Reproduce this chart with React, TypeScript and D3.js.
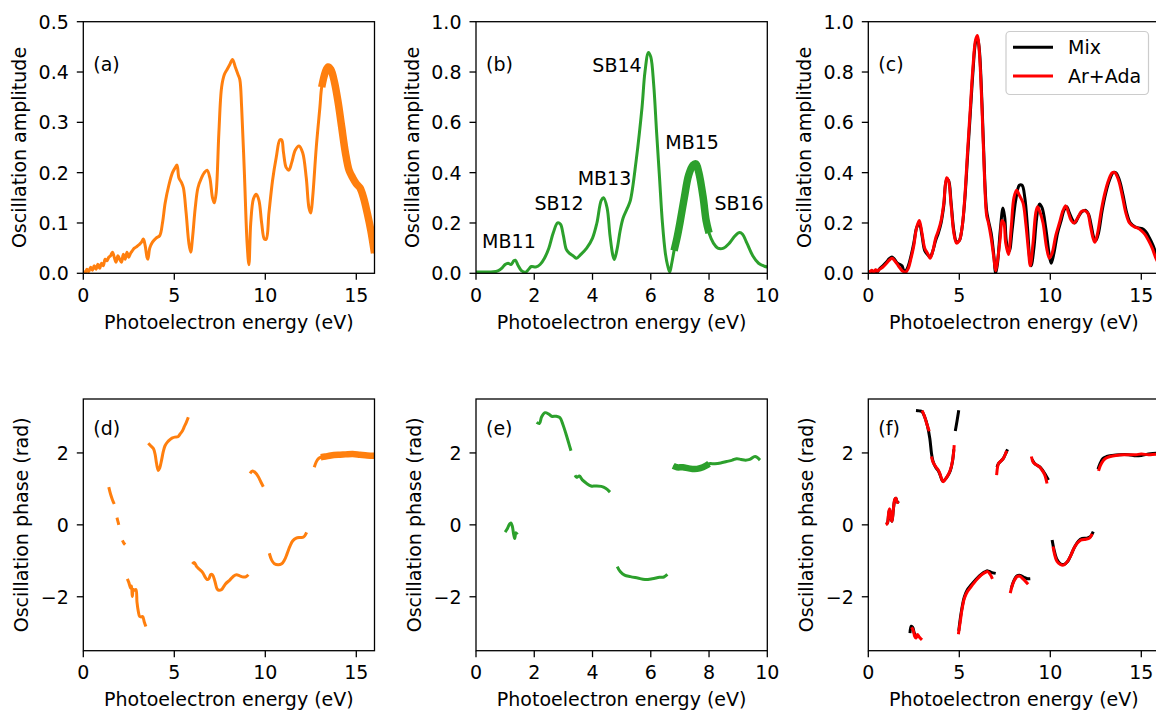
import React from 'react';
import * as d3 from 'd3';

type P = [number, number];

// ---------- DATA ----------
// (a) amplitude vs photoelectron energy (eV)
const ampA: P[] = [
  [0, 0.005], [0.1, 0.0], [0.2, 0.008], [0.3, 0.003], [0.4, 0.012], [0.5, 0.006], [0.6, 0.015], [0.7, 0.008], [0.8, 0.018], [0.9, 0.01],
  [1.0, 0.02], [1.1, 0.015], [1.2, 0.028], [1.3, 0.025], [1.4, 0.032], [1.5, 0.035], [1.6, 0.042], [1.7, 0.032], [1.8, 0.022], [1.9, 0.035],
  [2.0, 0.028], [2.1, 0.022], [2.2, 0.038], [2.3, 0.028], [2.4, 0.042], [2.5, 0.032], [2.6, 0.04], [2.7, 0.045], [2.8, 0.05], [2.9, 0.052],
  [3.0, 0.055], [3.1, 0.058], [3.2, 0.062], [3.3, 0.068], [3.4, 0.055], [3.5, 0.032], [3.55, 0.028], [3.65, 0.05], [3.8, 0.062], [4.0, 0.07],
  [4.2, 0.075], [4.35, 0.1], [4.5, 0.14], [4.7, 0.175], [4.9, 0.2], [5.05, 0.21], [5.15, 0.215], [5.25, 0.19], [5.4, 0.18], [5.5, 0.17],
  [5.65, 0.12], [5.8, 0.06], [5.9, 0.042], [6.0, 0.07], [6.15, 0.13], [6.3, 0.17], [6.5, 0.19], [6.65, 0.2], [6.8, 0.205], [6.95, 0.19],
  [7.1, 0.15], [7.2, 0.14], [7.3, 0.16], [7.45, 0.28], [7.6, 0.37], [7.75, 0.395], [7.9, 0.405], [8.05, 0.415], [8.2, 0.425], [8.35, 0.41],
  [8.5, 0.395], [8.6, 0.385], [8.7, 0.33], [8.85, 0.2], [9.0, 0.06], [9.1, 0.017], [9.2, 0.1], [9.35, 0.148], [9.5, 0.157], [9.65, 0.145],
  [9.8, 0.1], [9.95, 0.068], [10.05, 0.068], [10.2, 0.12], [10.4, 0.185], [10.6, 0.23], [10.8, 0.265], [10.9, 0.265], [11.0, 0.24], [11.15, 0.21],
  [11.3, 0.205], [11.45, 0.22], [11.65, 0.245], [11.85, 0.253], [12.05, 0.24], [12.25, 0.19], [12.4, 0.13], [12.5, 0.12], [12.6, 0.15], [12.8, 0.25],
  [13.0, 0.33], [13.1, 0.37], [13.3, 0.4], [13.45, 0.41], [13.6, 0.405], [13.8, 0.38], [14.0, 0.34], [14.2, 0.29], [14.4, 0.24], [14.6, 0.205],
  [14.8, 0.19], [15.0, 0.178], [15.2, 0.17], [15.4, 0.15], [15.6, 0.12], [15.8, 0.085], [16.0, 0.04],
];
const thickA: P = [13.1, 16];

// (b) amplitude
const ampB: P[] = [
  [0, 0.005], [0.3, 0.005], [0.6, 0.006], [0.75, 0.01], [0.9, 0.022], [1.0, 0.035], [1.1, 0.04], [1.2, 0.035], [1.3, 0.05], [1.35, 0.052],
  [1.45, 0.03], [1.55, 0.012], [1.7, 0.004], [1.8, 0.015], [1.9, 0.027], [2.05, 0.025], [2.2, 0.035], [2.35, 0.06], [2.5, 0.1], [2.65, 0.16],
  [2.8, 0.2], [2.9, 0.195], [3.0, 0.15], [3.1, 0.095], [3.2, 0.08], [3.35, 0.068], [3.45, 0.06], [3.6, 0.075], [3.8, 0.1], [4.0, 0.14],
  [4.15, 0.2], [4.3, 0.29], [4.38, 0.3], [4.5, 0.26], [4.6, 0.15], [4.7, 0.07], [4.75, 0.055], [4.85, 0.1], [4.95, 0.17], [5.05, 0.22],
  [5.2, 0.26], [5.3, 0.29], [5.5, 0.45], [5.7, 0.66], [5.8, 0.8], [5.92, 0.878], [6.0, 0.86], [6.1, 0.75], [6.2, 0.56], [6.3, 0.38],
  [6.4, 0.2], [6.5, 0.08], [6.58, 0.03], [6.65, 0.005], [6.72, 0.04], [6.8, 0.09], [6.9, 0.14], [7.0, 0.2], [7.15, 0.3], [7.3, 0.39],
  [7.45, 0.43], [7.55, 0.435], [7.65, 0.4], [7.8, 0.3], [7.9, 0.21], [8.0, 0.16], [8.15, 0.12], [8.3, 0.1], [8.5, 0.1], [8.7, 0.12],
  [8.9, 0.15], [9.05, 0.162], [9.15, 0.155], [9.3, 0.12], [9.5, 0.07], [9.7, 0.04], [9.9, 0.028], [10, 0.025],
];
const thickB: P = [6.8, 8.0];
const peakLabelsB = [
  { text: 'MB11', e: 1.13, a: 0.1 },
  { text: 'SB12', e: 2.85, a: 0.25 },
  { text: 'MB13', e: 4.41, a: 0.35 },
  { text: 'SB14', e: 4.84, a: 0.8 },
  { text: 'MB15', e: 7.42, a: 0.495 },
  { text: 'SB16', e: 9.03, a: 0.25 },
];

// (c) amplitude, two series
const ampMix: P[] = [
  [0.0, 0.008], [0.1, 0.004], [0.2, 0.01], [0.3, 0.003], [0.4, 0.012], [0.5, 0.006], [0.6, 0.016], [0.8, 0.03], [1.0, 0.045], [1.15, 0.058], [1.3, 0.065], [1.45, 0.055], [1.6, 0.04],
  [1.75, 0.035], [1.85, 0.03], [1.95, 0.012], [2.05, 0.01], [2.2, 0.03], [2.35, 0.07], [2.5, 0.12], [2.65, 0.18], [2.8, 0.2], [2.95, 0.15],
  [3.1, 0.09], [3.25, 0.075], [3.4, 0.065], [3.55, 0.09], [3.7, 0.13], [3.85, 0.16], [4.0, 0.2], [4.15, 0.27], [4.3, 0.37], [4.4, 0.37],
  [4.55, 0.28], [4.7, 0.17], [4.85, 0.125], [5.0, 0.13], [5.15, 0.18], [5.3, 0.29], [5.45, 0.46], [5.6, 0.63], [5.75, 0.8], [5.9, 0.92],
  [6.0, 0.935], [6.1, 0.89], [6.25, 0.67], [6.4, 0.37], [6.5, 0.25], [6.6, 0.21], [6.75, 0.16], [6.9, 0.07], [7.0, 0.0], [7.1, 0.04],
  [7.25, 0.17], [7.4, 0.26], [7.5, 0.22], [7.6, 0.12], [7.75, 0.09], [7.9, 0.17], [8.1, 0.29], [8.3, 0.35], [8.45, 0.35], [8.6, 0.3],
  [8.75, 0.18], [8.88, 0.05], [8.95, 0.03], [9.1, 0.1], [9.25, 0.22], [9.4, 0.275], [9.55, 0.26], [9.75, 0.18], [9.95, 0.07], [10.05, 0.04],
  [10.2, 0.08], [10.4, 0.16], [10.6, 0.21], [10.75, 0.25], [10.9, 0.265], [11.05, 0.24], [11.2, 0.215], [11.35, 0.2], [11.55, 0.225], [11.75, 0.245],
  [11.95, 0.25], [12.1, 0.235], [12.25, 0.19], [12.4, 0.14], [12.5, 0.13], [12.65, 0.16], [12.85, 0.25], [13.05, 0.32], [13.25, 0.37], [13.45, 0.4],
  [13.6, 0.4], [13.8, 0.37], [14.0, 0.31], [14.2, 0.24], [14.4, 0.2], [14.65, 0.185], [14.85, 0.18], [15.05, 0.178], [15.25, 0.165], [15.45, 0.14],
  [15.65, 0.11], [15.85, 0.07], [16.0, 0.045],
];
const ampArAda: P[] = [
  [0.0, 0.01], [0.1, 0.006], [0.2, 0.012], [0.3, 0.005], [0.4, 0.014], [0.5, 0.008], [0.6, 0.015], [0.8, 0.025], [1.0, 0.04], [1.15, 0.052], [1.3, 0.06], [1.45, 0.05], [1.6, 0.035],
  [1.75, 0.02], [1.9, 0.008], [2.05, 0.004], [2.2, 0.02], [2.35, 0.06], [2.5, 0.11], [2.65, 0.18], [2.8, 0.21], [2.95, 0.16], [3.1, 0.1],
  [3.25, 0.08], [3.4, 0.06], [3.55, 0.09], [3.7, 0.14], [3.85, 0.17], [4.0, 0.21], [4.15, 0.28], [4.3, 0.38], [4.4, 0.37], [4.55, 0.27],
  [4.7, 0.16], [4.85, 0.12], [5.0, 0.13], [5.15, 0.18], [5.3, 0.3], [5.45, 0.48], [5.6, 0.65], [5.75, 0.82], [5.9, 0.93], [6.0, 0.945],
  [6.1, 0.88], [6.25, 0.65], [6.4, 0.35], [6.5, 0.23], [6.6, 0.2], [6.75, 0.14], [6.9, 0.06], [7.0, 0.01], [7.1, 0.05], [7.25, 0.14],
  [7.35, 0.21], [7.45, 0.2], [7.55, 0.12], [7.7, 0.075], [7.85, 0.18], [8.0, 0.3], [8.15, 0.33], [8.3, 0.31], [8.5, 0.28], [8.65, 0.2],
  [8.8, 0.09], [8.9, 0.03], [9.05, 0.12], [9.2, 0.24], [9.3, 0.265], [9.45, 0.24], [9.6, 0.2], [9.8, 0.1], [9.95, 0.06], [10.1, 0.08],
  [10.3, 0.15], [10.5, 0.2], [10.7, 0.25], [10.85, 0.268], [11.0, 0.24], [11.15, 0.21], [11.3, 0.2], [11.5, 0.22], [11.7, 0.245], [11.85, 0.25],
  [12.05, 0.24], [12.2, 0.19], [12.35, 0.14], [12.45, 0.123], [12.6, 0.16], [12.8, 0.25], [13.0, 0.32], [13.2, 0.37], [13.4, 0.4], [13.55, 0.4],
  [13.75, 0.37], [13.95, 0.31], [14.15, 0.24], [14.35, 0.2], [14.6, 0.185], [14.8, 0.18], [15.0, 0.17], [15.2, 0.155], [15.4, 0.13], [15.6, 0.1],
  [15.8, 0.06], [16.0, 0.03],
];

// (d) phase segments (rad)
const phaseD: P[][] = [
  [[1.4, 1.05], [1.5, 0.85], [1.6, 0.7], [1.7, 0.58]],
  [[1.85, 0.2], [1.9, 0.1], [1.95, 0.0]],
  [[2.15, -0.43], [2.22, -0.5], [2.3, -0.55]],
  [[2.42, -1.5], [2.5, -1.6], [2.6, -1.76], [2.65, -1.7], [2.69, -1.99], [2.75, -1.8], [2.8, -1.82], [2.89, -1.8], [2.95, -2.15], [3.02, -2.4],
   [3.1, -2.55], [3.18, -2.56], [3.26, -2.55], [3.35, -2.7], [3.44, -2.83]],
  [[3.57, 2.27], [3.7, 2.2], [3.85, 2.12], [3.95, 1.95], [4.02, 1.72], [4.12, 1.51], [4.2, 1.58], [4.3, 1.8], [4.4, 2.05], [4.49, 2.2],
   [4.62, 2.3], [4.76, 2.37], [4.9, 2.42], [5.04, 2.44], [5.2, 2.45], [5.31, 2.52], [5.45, 2.62], [5.55, 2.73], [5.66, 2.85], [5.77, 2.99]],
  [[5.99, -1.09], [6.1, -1.05], [6.23, -1.16], [6.41, -1.25], [6.55, -1.32], [6.68, -1.44], [6.8, -1.52], [6.9, -1.5], [7.0, -1.38], [7.1, -1.39],
   [7.23, -1.57], [7.35, -1.78], [7.45, -1.82], [7.6, -1.8], [7.8, -1.65], [8.06, -1.53], [8.25, -1.43], [8.42, -1.39], [8.6, -1.42], [8.79, -1.45],
   [8.95, -1.44], [9.07, -1.39]],
  [[9.16, 1.43], [9.3, 1.5], [9.45, 1.45], [9.6, 1.35], [9.75, 1.2], [9.89, 1.06]],
  [[10.22, -0.79], [10.35, -0.98], [10.5, -1.08], [10.71, -1.11], [10.9, -1.08], [11.05, -0.98], [11.2, -0.8], [11.35, -0.6], [11.5, -0.45],
   [11.7, -0.37], [11.9, -0.35], [12.1, -0.34], [12.27, -0.21]],
  [[12.69, 1.6], [12.8, 1.75], [12.92, 1.84], [13.05, 1.88], [13.3, 1.9], [13.6, 1.93], [14.0, 1.95], [14.4, 1.96], [14.8, 1.97], [15.2, 1.95],
   [15.6, 1.93], [16.0, 1.92]],
];
const thickD: P = [13.05, 16];

// (e) phase segments
const phaseE: P[][] = [
  [[1.0, -0.2], [1.08, -0.1], [1.15, 0.02], [1.2, 0.05], [1.25, -0.05], [1.29, -0.25], [1.33, -0.38], [1.37, -0.22], [1.42, -0.27]],
  [[2.08, 2.85], [2.18, 2.82], [2.25, 3.0], [2.37, 3.12], [2.5, 3.08], [2.6, 3.02], [2.75, 3.02], [2.88, 2.98], [2.98, 2.8], [3.1, 2.5], [3.26, 2.06]],
  [[3.4, 1.38], [3.46, 1.32], [3.55, 1.36], [3.65, 1.25], [3.8, 1.15], [3.95, 1.08], [4.1, 1.08], [4.3, 1.07], [4.45, 1.02], [4.6, 0.91]],
  [[4.85, -1.16], [4.95, -1.3], [5.1, -1.4], [5.3, -1.44], [5.55, -1.48], [5.8, -1.52], [6.05, -1.5], [6.3, -1.46], [6.45, -1.45], [6.57, -1.38]],
  [[6.77, 1.64], [6.9, 1.6], [7.1, 1.6], [7.3, 1.57], [7.5, 1.55], [7.7, 1.58], [7.9, 1.65], [8.0, 1.7], [8.2, 1.7], [8.4, 1.72], [8.6, 1.76],
   [8.8, 1.8], [8.95, 1.84], [9.1, 1.82], [9.25, 1.8], [9.4, 1.82], [9.58, 1.9], [9.75, 1.8]],
];
const thickE: P = [6.77, 8.0];

// (f) phase segments, two series
const phaseMix: P[][] = [
  [[0.97, 0.02], [1.05, 0.05], [1.12, 0.3], [1.17, 0.42], [1.24, 0.18], [1.3, 0.1], [1.38, 0.45], [1.46, 0.7], [1.52, 0.74], [1.6, 0.62], [1.65, 0.66]],
  [[2.29, -3.01], [2.36, -2.82], [2.44, -2.85], [2.52, -3.0], [2.6, -3.1]],
  [[2.62, 3.18], [2.8, 3.17], [2.95, 3.15], [3.1, 3.0], [3.25, 2.75], [3.38, 2.4], [3.47, 2.0], [3.55, 1.78], [3.7, 1.6], [3.85, 1.5], [3.95, 1.38],
   [4.08, 1.22], [4.2, 1.25], [4.35, 1.35], [4.5, 1.5], [4.62, 1.75], [4.7, 2.1]],
  [[4.78, 2.61], [4.88, 2.9], [4.97, 3.19]],
  [[4.97, -2.95], [5.1, -2.45], [5.28, -2.0], [5.45, -1.8], [5.6, -1.7], [5.8, -1.58], [6.0, -1.47], [6.2, -1.38], [6.4, -1.31], [6.56, -1.28],
   [6.75, -1.32], [7.0, -1.35]],
  [[7.07, 1.6], [7.16, 1.71], [7.3, 1.78], [7.42, 1.85], [7.52, 1.95], [7.65, 2.1]],
  [[7.85, -1.78], [8.0, -1.55], [8.15, -1.43], [8.3, -1.4], [8.45, -1.43], [8.6, -1.47], [8.75, -1.5], [8.9, -1.5]],
  [[9.0, 1.82], [9.15, 1.7], [9.3, 1.65], [9.45, 1.6], [9.6, 1.5], [9.75, 1.38], [9.9, 1.25]],
  [[10.1, -0.42], [10.2, -0.68], [10.35, -0.95], [10.55, -1.08], [10.75, -1.1], [10.95, -1.02], [11.15, -0.82], [11.35, -0.6], [11.55, -0.45],
   [11.75, -0.38], [12.0, -0.37], [12.2, -0.33], [12.36, -0.19]],
  [[12.62, 1.55], [12.75, 1.72], [12.9, 1.85], [13.1, 1.9], [13.4, 1.93], [13.8, 1.95], [14.3, 1.95], [14.7, 1.92], [15.0, 1.93], [15.5, 1.98], [16.0, 2.0]],
];
const phaseArAda: P[][] = [
  [[0.97, 0.0], [1.05, 0.05], [1.12, 0.35], [1.17, 0.45], [1.24, 0.2], [1.3, 0.1], [1.38, 0.45], [1.46, 0.72], [1.52, 0.74], [1.6, 0.62], [1.65, 0.65]],
  [[2.38, -2.85], [2.48, -2.95], [2.55, -3.1], [2.62, -3.15], [2.7, -3.05], [2.8, -3.12], [2.95, -3.2]],
  [[2.96, 3.18], [3.1, 3.0], [3.25, 2.75], [3.35, 2.6]],
  [[3.47, 1.9], [3.55, 1.75], [3.7, 1.62], [3.85, 1.52], [3.95, 1.4], [4.05, 1.25], [4.12, 1.2], [4.25, 1.28], [4.4, 1.4], [4.55, 1.6], [4.65, 1.85], [4.72, 2.22]],
  [[4.95, -3.04], [5.05, -2.7], [5.15, -2.35], [5.28, -2.04], [5.45, -1.85], [5.6, -1.75], [5.8, -1.62], [6.0, -1.5], [6.2, -1.4], [6.4, -1.33],
   [6.56, -1.3], [6.7, -1.38], [6.82, -1.5]],
  [[7.05, 1.38], [7.1, 1.6], [7.16, 1.71], [7.3, 1.78], [7.42, 1.85], [7.52, 1.95], [7.6, 2.06]],
  [[7.8, -1.9], [7.9, -1.7], [8.0, -1.57], [8.15, -1.45], [8.3, -1.42], [8.45, -1.48], [8.6, -1.55], [8.78, -1.65]],
  [[8.96, 1.9], [9.05, 1.75], [9.15, 1.7], [9.3, 1.65], [9.45, 1.59], [9.6, 1.48], [9.7, 1.38], [9.82, 1.15]],
  [[10.15, -0.6], [10.25, -0.85], [10.37, -1.02], [10.55, -1.1], [10.72, -1.12], [10.9, -1.05], [11.1, -0.88], [11.3, -0.65], [11.5, -0.5],
   [11.7, -0.42], [11.95, -0.4], [12.15, -0.37], [12.3, -0.25]],
  [[12.65, 1.5], [12.75, 1.65], [12.9, 1.78], [13.05, 1.85], [13.3, 1.9], [13.6, 1.93], [14.0, 1.95], [14.4, 1.95], [14.7, 1.95], [15.0, 1.97],
   [15.4, 1.95], [15.8, 1.96], [16.0, 1.95]],
];

const xTicks16 = [0, 5, 10, 15];
const xTicks10 = [0, 2, 4, 6, 8, 10];
const yTicksA = [0, 0.1, 0.2, 0.3, 0.4, 0.5];
const yTicksBC = [0, 0.2, 0.4, 0.6, 0.8, 1.0];
const yTicksPhase = [-2, 0, 2];
const legendItems = [
  { label: 'Mix', color: '#000000' },
  { label: 'Ar+Ada', color: '#ff0000' },
];
const X_LABEL = 'Photoelectron energy (eV)';
const Y_AMP = 'Oscillation amplitude';
const Y_PHASE = 'Oscillation phase (rad)';

// ---------- STYLE / LAYOUT ----------
const ORANGE = '#ff7f0e';
const GREEN = '#2ca02c';
const FONT = "'DejaVu Sans', sans-serif";
const FS = 19;
const COLS: P[] = [[83.3, 374.5], [476, 767.3], [868.3, 1159.5]];
const ROWS: P[] = [[21.7, 273.3], [399, 650.7]];
const LW = 3;

type Sc = d3.ScaleLinear<number, number>;

const fmt1 = (v: number) => v.toFixed(1);
const fmtPhase = (v: number) => (v < 0 ? '\u2212' + Math.abs(v) : String(v));

function mkLine(xs: Sc, ys: Sc) {
  return d3
    .line<P>()
    .x((d) => xs(d[0]))
    .y((d) => ys(d[1]))
    .curve(d3.curveCatmullRom.alpha(0.5));
}

function within(pts: P[], r: P) {
  return pts.filter((d) => d[0] >= r[0] - 1e-9 && d[0] <= r[1] + 1e-9);
}

interface AxesProps {
  id: string;
  col: number;
  row: number;
  xDomain: P;
  yDomain: P;
  xTicks: number[];
  yTicks: number[];
  yFmt: (v: number) => string;
  yLabel: string;
  yLabelOff: number;
  letter: string;
  letterDy: number;
  render: (xs: Sc, ys: Sc) => React.ReactNode;
}

function Axes(p: AxesProps) {
  const [x0, x1] = COLS[p.col];
  const [y0, y1] = ROWS[p.row];
  const xs = d3.scaleLinear().domain(p.xDomain).range([x0, x1]);
  const ys = d3.scaleLinear().domain(p.yDomain).range([y1, y0]);
  return (
    <g>
      <defs>
        <clipPath id={p.id}>
          <rect x={x0} y={y0} width={x1 - x0} height={y1 - y0} />
        </clipPath>
      </defs>
      <g clipPath={`url(#${p.id})`}>{p.render(xs, ys)}</g>
      <rect x={x0} y={y0} width={x1 - x0} height={y1 - y0} fill="none" stroke="#000" strokeWidth={1.3} />
      {p.xTicks.map((t) => (
        <g key={'x' + t}>
          <line x1={xs(t)} x2={xs(t)} y1={y1} y2={y1 + 6.5} stroke="#000" strokeWidth={1.3} />
          <text x={xs(t)} y={y1 + 28.6} textAnchor="middle">
            {String(t)}
          </text>
        </g>
      ))}
      {p.yTicks.map((t) => (
        <g key={'y' + t}>
          <line x1={x0 - 6.5} x2={x0} y1={ys(t)} y2={ys(t)} stroke="#000" strokeWidth={1.3} />
          <text x={x0 - 14.5} y={ys(t) + 6.9} textAnchor="end">
            {p.yFmt(t)}
          </text>
        </g>
      ))}
      <text x={(x0 + x1) / 2} y={y1 + 55.5} textAnchor="middle">
        {X_LABEL}
      </text>
      <text
        transform={`translate(${x0 - p.yLabelOff},${(y0 + y1) / 2}) rotate(-90)`}
        textAnchor="middle"
      >
        {p.yLabel}
      </text>
      <text x={x0 + 10} y={y0 + p.letterDy}>
        {p.letter}
      </text>
    </g>
  );
}

export default function App() {
  return (
    <svg
      width={1156}
      height={711}
      viewBox="0 0 1156 711"
      style={{ position: 'absolute', left: 0, top: 0, background: '#fff' }}
      fontFamily={FONT}
      fontSize={FS}
      fill="#000"
    >
      <rect x={0} y={0} width={1156} height={711} fill="#fff" />

      {/* (a) */}
      <Axes
        id="clipA" col={0} row={0} xDomain={[0, 16]} yDomain={[0, 0.5]} xTicks={xTicks16} yTicks={yTicksA}
        yFmt={fmt1} yLabel={Y_AMP} yLabelOff={57} letter="(a)" letterDy={49.5}
        render={(xs, ys) => {
          const ln = mkLine(xs, ys);
          return (
            <g fill="none" stroke={ORANGE} strokeLinejoin="round">
              <path d={ln(ampA) || ''} strokeWidth={LW} />
              <path d={ln(within(ampA, thickA)) || ''} strokeWidth={7.5} />
            </g>
          );
        }}
      />

      {/* (b) */}
      <Axes
        id="clipB" col={1} row={0} xDomain={[0, 10]} yDomain={[0, 1]} xTicks={xTicks10} yTicks={yTicksBC}
        yFmt={fmt1} yLabel={Y_AMP} yLabelOff={57} letter="(b)" letterDy={49.5}
        render={(xs, ys) => {
          const ln = mkLine(xs, ys);
          return (
            <g>
              <g fill="none" stroke={GREEN} strokeLinejoin="round">
                <path d={ln(ampB) || ''} strokeWidth={LW} />
                <path d={ln(within(ampB, thickB)) || ''} strokeWidth={7.5} />
              </g>
              {peakLabelsB.map((l) => (
                <text key={l.text} x={xs(l.e)} y={ys(l.a)} textAnchor="middle">
                  {l.text}
                </text>
              ))}
            </g>
          );
        }}
      />

      {/* (c) */}
      <Axes
        id="clipC" col={2} row={0} xDomain={[0, 16]} yDomain={[0, 1]} xTicks={xTicks16} yTicks={yTicksBC}
        yFmt={fmt1} yLabel={Y_AMP} yLabelOff={57} letter="(c)" letterDy={49.5}
        render={(xs, ys) => {
          const ln = mkLine(xs, ys);
          return (
            <g fill="none" strokeLinejoin="round" strokeWidth={LW}>
              <path d={ln(ampMix) || ''} stroke="#000" />
              <path d={ln(ampArAda) || ''} stroke="#ff0000" />
            </g>
          );
        }}
      />
      {/* legend for (c) */}
      <g>
        <rect x={1006} y={31.5} width={142.5} height={63} rx={4} fill="#fff" fillOpacity={0.8} stroke="#cccccc" strokeWidth={1.2} />
        {legendItems.map((it, i) => (
          <g key={it.label}>
            <line x1={1013} x2={1053} y1={47.3 + i * 28.8} y2={47.3 + i * 28.8} stroke={it.color} strokeWidth={LW} />
            <text x={1068} y={54 + i * 28.8}>{it.label}</text>
          </g>
        ))}
      </g>

      {/* (d) */}
      <Axes
        id="clipD" col={0} row={1} xDomain={[0, 16]} yDomain={[-3.5, 3.5]} xTicks={xTicks16} yTicks={yTicksPhase}
        yFmt={fmtPhase} yLabel={Y_PHASE} yLabelOff={55.5} letter="(d)" letterDy={36}
        render={(xs, ys) => {
          const ln = mkLine(xs, ys);
          return (
            <g fill="none" stroke={ORANGE} strokeLinejoin="round">
              {phaseD.map((s, i) => (
                <path key={i} d={ln(s) || ''} strokeWidth={LW} />
              ))}
              {phaseD.map((s, i) => {
                const t = within(s, thickD);
                return t.length > 1 ? <path key={'t' + i} d={ln(t) || ''} strokeWidth={6.5} /> : null;
              })}
            </g>
          );
        }}
      />

      {/* (e) */}
      <Axes
        id="clipE" col={1} row={1} xDomain={[0, 10]} yDomain={[-3.5, 3.5]} xTicks={xTicks10} yTicks={yTicksPhase}
        yFmt={fmtPhase} yLabel={Y_PHASE} yLabelOff={55.5} letter="(e)" letterDy={36}
        render={(xs, ys) => {
          const ln = mkLine(xs, ys);
          return (
            <g fill="none" stroke={GREEN} strokeLinejoin="round">
              {phaseE.map((s, i) => (
                <path key={i} d={ln(s) || ''} strokeWidth={LW} />
              ))}
              {phaseE.map((s, i) => {
                const t = within(s, thickE);
                return t.length > 1 ? <path key={'t' + i} d={ln(t) || ''} strokeWidth={6.5} /> : null;
              })}
            </g>
          );
        }}
      />

      {/* (f) */}
      <Axes
        id="clipF" col={2} row={1} xDomain={[0, 16]} yDomain={[-3.5, 3.5]} xTicks={xTicks16} yTicks={yTicksPhase}
        yFmt={fmtPhase} yLabel={Y_PHASE} yLabelOff={55.5} letter="(f)" letterDy={36}
        render={(xs, ys) => {
          const ln = mkLine(xs, ys);
          return (
            <g fill="none" strokeLinejoin="round" strokeWidth={LW}>
              {phaseMix.map((s, i) => (
                <path key={'m' + i} d={ln(s) || ''} stroke="#000" />
              ))}
              {phaseArAda.map((s, i) => (
                <path key={'r' + i} d={ln(s) || ''} stroke="#ff0000" />
              ))}
            </g>
          );
        }}
      />
    </svg>
  );
}
